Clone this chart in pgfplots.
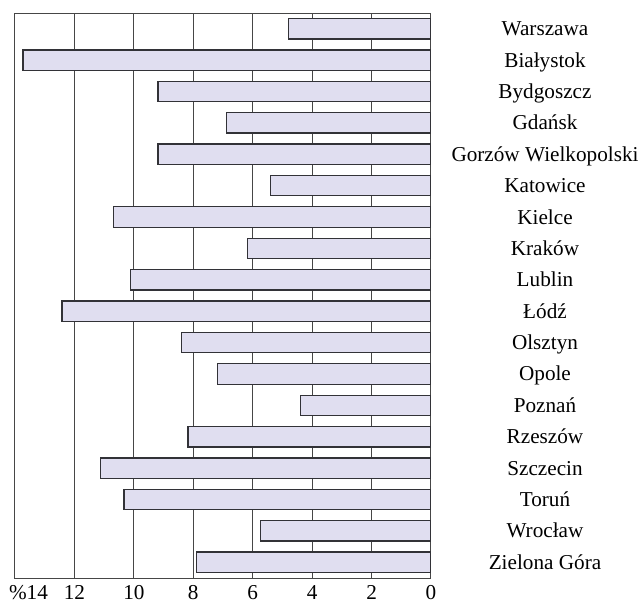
\documentclass[border=0pt]{standalone}
\usepackage{fontspec}
\setmainfont{Liberation Serif}
\usepackage{pgfplots}
\pgfplotsset{compat=1.18}
\definecolor{barfill}{RGB}{224,222,240}
\definecolor{baredge}{RGB}{50,50,55}
\definecolor{gridc}{RGB}{70,70,70}
\begin{document}
\fontsize{21.2bp}{25bp}\selectfont
\begin{tikzpicture}
\begin{axis}[
 scale only axis, width=416bp, height=565bp,
 xbar, x dir=reverse, y dir=reverse,
 xmin=0, xmax=14, ymin=-0.5, ymax=17.5,
 bar width=0.65,
 xtick={0,2,...,12}, xticklabels={0,2,4,6,8,10,12},
 xticklabel style={inner sep=1bp, yshift=-6bp},
 extra x ticks={14}, extra x tick labels={\%14},
 extra x tick style={xticklabel style={xshift=13.5bp}, grid=none},
 xmajorgrids, major grid style={gridc, line width=1bp},
 ytick={0,...,17},
 yticklabels={Warszawa,Białystok,Bydgoszcz,Gdańsk,Gorzów Wielkopolski,Katowice,Kielce,Kraków,Lublin,Łódź,Olsztyn,Opole,Poznań,Rzeszów,Szczecin,Toruń,Wrocław,Zielona Góra},
 yticklabel pos=right,
 yticklabel style={anchor=base, xshift=114bp, yshift=-7bp},
 major tick length=0pt,
 axis line style={gridc, line width=1bp},
 tick label style={font=\fontsize{21.2bp}{25bp}\selectfont},
 /pgf/number format/assume math mode=true,
]
\addplot[fill=barfill, draw=baredge, line width=1.3bp] coordinates {
(4.80,0) (13.73,1) (9.19,2) (6.88,3) (9.19,4) (5.39,5) (10.69,6) (6.17,7) (10.12,8)
(12.42,9) (8.39,10) (7.18,11) (4.39,12) (8.18,13) (11.13,14) (10.33,15) (5.73,16) (7.89,17)};
\end{axis}
\pgfresetboundingbox
\path[use as bounding box] (-15bp,-25bp) rectangle (625bp,578bp);
\end{tikzpicture}
\end{document}
